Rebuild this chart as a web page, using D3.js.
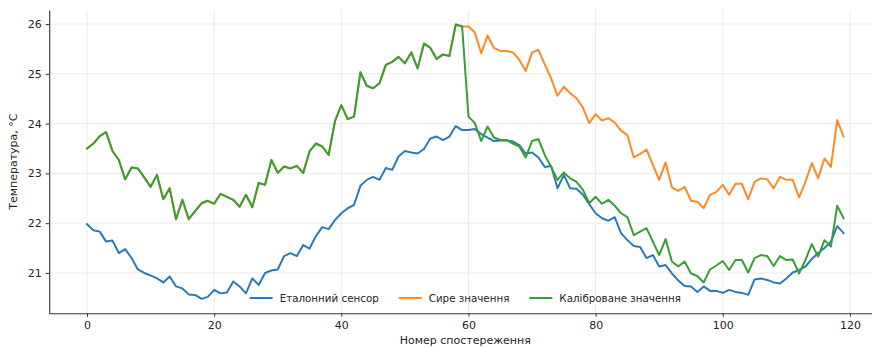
<!DOCTYPE html>
<html><head><meta charset="utf-8">
<script src="https://cdn.jsdelivr.net/npm/d3@7"></script>
<style>html,body{margin:0;padding:0;background:#fff;}svg{display:block;font-family:"DejaVu Sans",sans-serif;}</style>
</head><body>
<svg id="chart" width="872" height="347"></svg>
<script>
const seriesNames = ["Еталонний сенсор", "Сире значення", "Каліброване значення"];
const xTicks = [0, 20, 40, 60, 80, 100, 120];
const yTicks = [21, 22, 23, 24, 25, 26];
const xLabel = "Номер спостереження";
const yLabel = "Температура, °C";

const reference = [21.98,21.86,21.83,21.63,21.65,21.40,21.48,21.30,21.07,21.00,
20.95,20.89,20.81,20.93,20.73,20.69,20.57,20.56,20.48,20.52,
20.66,20.59,20.61,20.83,20.73,20.59,20.89,20.76,21.00,21.05,
21.07,21.34,21.40,21.34,21.56,21.49,21.74,21.92,21.88,22.06,
22.20,22.30,22.37,22.75,22.87,22.93,22.87,23.11,23.07,23.34,
23.45,23.42,23.40,23.49,23.70,23.74,23.67,23.74,23.95,23.87,
23.87,23.89,23.79,23.72,23.65,23.66,23.66,23.64,23.57,23.40,
23.42,23.32,23.13,23.15,22.70,22.97,22.70,22.69,22.57,22.38,
22.20,22.10,22.05,22.12,21.80,21.66,21.54,21.52,21.30,21.36,
21.13,21.16,20.99,20.85,20.74,20.73,20.62,20.73,20.64,20.64,
20.60,20.66,20.62,20.60,20.56,20.87,20.89,20.86,20.81,20.79,
20.89,21.01,21.06,21.13,21.28,21.40,21.50,21.63,21.94,21.80];

const calibrated = [23.50,23.60,23.75,23.83,23.45,23.27,22.88,23.12,23.10,22.92,
22.73,22.97,22.48,22.70,22.08,22.47,22.08,22.24,22.40,22.45,
22.39,22.59,22.53,22.47,22.33,22.57,22.32,22.81,22.77,23.27,
23.01,23.14,23.10,23.15,23.01,23.44,23.60,23.54,23.37,24.05,
24.37,24.09,24.14,25.03,24.76,24.71,24.81,25.18,25.24,25.34,
25.21,25.43,25.11,25.61,25.52,25.30,25.39,25.36,25.99,25.95,
24.14,24.01,23.65,23.94,23.72,23.67,23.67,23.60,23.54,23.32,
23.65,23.69,23.37,23.13,22.87,23.02,22.90,22.83,22.67,22.40,
22.53,22.39,22.47,22.35,22.20,22.12,21.76,21.83,21.90,21.63,
21.36,21.68,21.23,21.13,21.23,20.99,20.94,20.81,21.07,21.15,
21.24,21.06,21.26,21.26,21.01,21.30,21.36,21.34,21.14,21.34,
21.26,21.27,20.99,21.26,21.58,21.33,21.66,21.53,22.35,22.10];

const raw = [23.50,23.60,23.75,23.83,23.45,23.27,22.88,23.12,23.10,22.92,
22.73,22.97,22.48,22.70,22.08,22.47,22.08,22.24,22.40,22.45,
22.39,22.59,22.53,22.47,22.33,22.57,22.32,22.81,22.77,23.27,
23.01,23.14,23.10,23.15,23.01,23.44,23.60,23.54,23.37,24.05,
24.37,24.09,24.14,25.03,24.76,24.71,24.81,25.18,25.24,25.34,
25.21,25.43,25.11,25.61,25.52,25.30,25.39,25.36,25.99,25.95,
25.95,25.83,25.41,25.77,25.52,25.46,25.46,25.43,25.28,25.06,
25.43,25.48,25.19,24.91,24.56,24.74,24.61,24.51,24.32,24.01,
24.19,24.06,24.11,24.02,23.86,23.77,23.32,23.39,23.48,23.17,
22.87,23.22,22.72,22.65,22.73,22.45,22.43,22.30,22.57,22.63,
22.77,22.57,22.79,22.79,22.48,22.83,22.90,22.88,22.70,22.93,
22.87,22.87,22.52,22.83,23.21,22.90,23.30,23.13,24.07,23.74];

const colors = ["#2a7ab8", "#fb8a2a", "#36a036"];
const series = [reference, raw, calibrated];

const svg = d3.select("#chart");
const x = d3.scaleLinear().domain([-5.95, 124.95]).range([49.2, 881.4]);
const y = d3.scaleLinear().domain([20.19, 26.28]).range([313.3, 10.1]);
const textColor = "#262626";

// grid
const grid = svg.append("g");
grid.selectAll("line.vx").data(xTicks).join("line")
  .attr("x1", d => x(d)).attr("x2", d => x(d)).attr("y1", y.range()[1]).attr("y2", y.range()[0])
  .attr("stroke", "#ebebeb").attr("stroke-width", 1);
grid.selectAll("line.hy").data(yTicks).join("line")
  .attr("y1", d => y(d)).attr("y2", d => y(d)).attr("x1", x.range()[0]).attr("x2", x.range()[1])
  .attr("stroke", "#ebebeb").attr("stroke-width", 1);

// axes
const xAxis = svg.append("g").attr("transform", `translate(0,${y.range()[0]})`)
  .call(d3.axisBottom(x).tickValues(xTicks).tickFormat(d3.format("d")).tickSize(3.5).tickPadding(4).tickSizeOuter(0));
const yAxis = svg.append("g").attr("transform", `translate(${x.range()[0]},0)`)
  .call(d3.axisLeft(y).tickValues(yTicks).tickFormat(d3.format("d")).tickSize(3.5).tickPadding(4).tickSizeOuter(0));
[xAxis, yAxis].forEach(a => {
  a.select(".domain").attr("stroke", "#333").attr("stroke-width", 1.1);
  a.selectAll(".tick line").attr("stroke", "#333");
  a.selectAll(".tick text").attr("fill", textColor).style("font-size", "11px").style("font-family", "DejaVu Sans");
});

// lines
const line = d3.line().x((d, i) => x(i)).y(d => y(d));
series.forEach((s, k) => {
  svg.append("path").datum(s).attr("d", line).attr("fill", "none")
    .attr("stroke", colors[k]).attr("stroke-width", 2).attr("stroke-linejoin", "round").attr("stroke-linecap", "square");
});

// axis labels
svg.append("text").attr("x", (x.range()[0] + x.range()[1]) / 2).attr("y", 344)
  .attr("text-anchor", "middle").attr("fill", textColor).style("font-size", "11px").text(xLabel);
svg.append("text").attr("transform", `translate(17,${(y.range()[0] + y.range()[1]) / 2}) rotate(-90)`)
  .attr("text-anchor", "middle").attr("fill", textColor).style("font-size", "11px").text(yLabel);

// legend
const fs = 10.3;
const leg = svg.append("g");
const items = seriesNames.map((n, k) => {
  const t = leg.append("text").attr("fill", textColor).style("font-size", fs + "px").text(n);
  return {t, w: t.node().getComputedTextLength(), k};
});
const handle = 23, pad = 7, colSp = 20;
const total = items.reduce((a, it) => a + handle + pad + it.w, 0) + colSp * (items.length - 1);
let cx = (x.range()[0] + x.range()[1]) / 2 - total / 2;
const ly = 298;
items.forEach(it => {
  leg.append("line").attr("x1", cx).attr("x2", cx + handle).attr("y1", ly).attr("y2", ly)
    .attr("stroke", colors[it.k]).attr("stroke-width", 2);
  it.t.attr("x", cx + handle + pad).attr("y", ly + 3.7);
  cx += handle + pad + it.w + colSp;
});
</script>
</body></html>
